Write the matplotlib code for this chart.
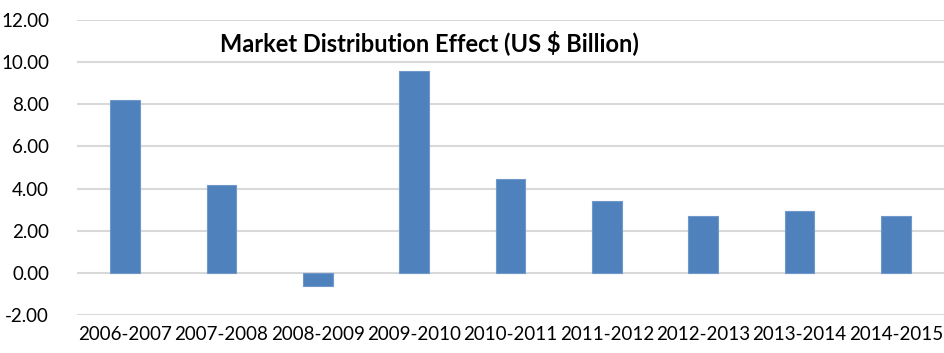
import matplotlib
matplotlib.use("Agg")
import matplotlib.pyplot as plt
import numpy as np

periods = ["2006-2007", "2007-2008", "2008-2009", "2009-2010", "2010-2011",
           "2011-2012", "2012-2013", "2013-2014", "2014-2015"]
effect = [8.20, 4.17, -0.62, 9.58, 4.44, 3.41, 2.68, 2.92, 2.69]
y_ticks = [-2, 0, 2, 4, 6, 8, 10, 12]

plt.rcParams["font.family"] = ["Lato", "DejaVu Sans"]

fig = plt.figure(figsize=(9.44, 3.53), dpi=100)
ax = fig.add_axes([77 / 944, 1 - 315 / 353, 1 - 77 / 944, (315 - 20) / 353])

x = np.arange(len(periods))
ax.bar(x, effect, width=0.31, color="#4F81BD", edgecolor="#6F98CB",
       linewidth=0.8, zorder=3)

ax.set_xlim(-0.5, len(periods) - 0.5)
ax.set_ylim(-2, 12)
ax.set_yticks(y_ticks)
ax.set_yticklabels([f"{v:.2f}" for v in y_ticks], fontsize=13.5, color="#000000")
ax.set_xticks(x)
ax.set_xticklabels(periods, fontsize=13.5, color="#000000")
ax.tick_params(axis="both", length=0)
ax.tick_params(axis="y", pad=20)
ax.tick_params(axis="x", pad=8)

ax.grid(axis="y", color="#D9D9D9", linewidth=1.5, zorder=0)
for s in ax.spines.values():
    s.set_visible(False)

fig.text(429 / 944, 1 - 43 / 353, "Market Distribution Effect (US $ Billion)",
         ha="center", va="center", fontsize=17, fontweight="bold")

fig.savefig("out.png", dpi=100)
